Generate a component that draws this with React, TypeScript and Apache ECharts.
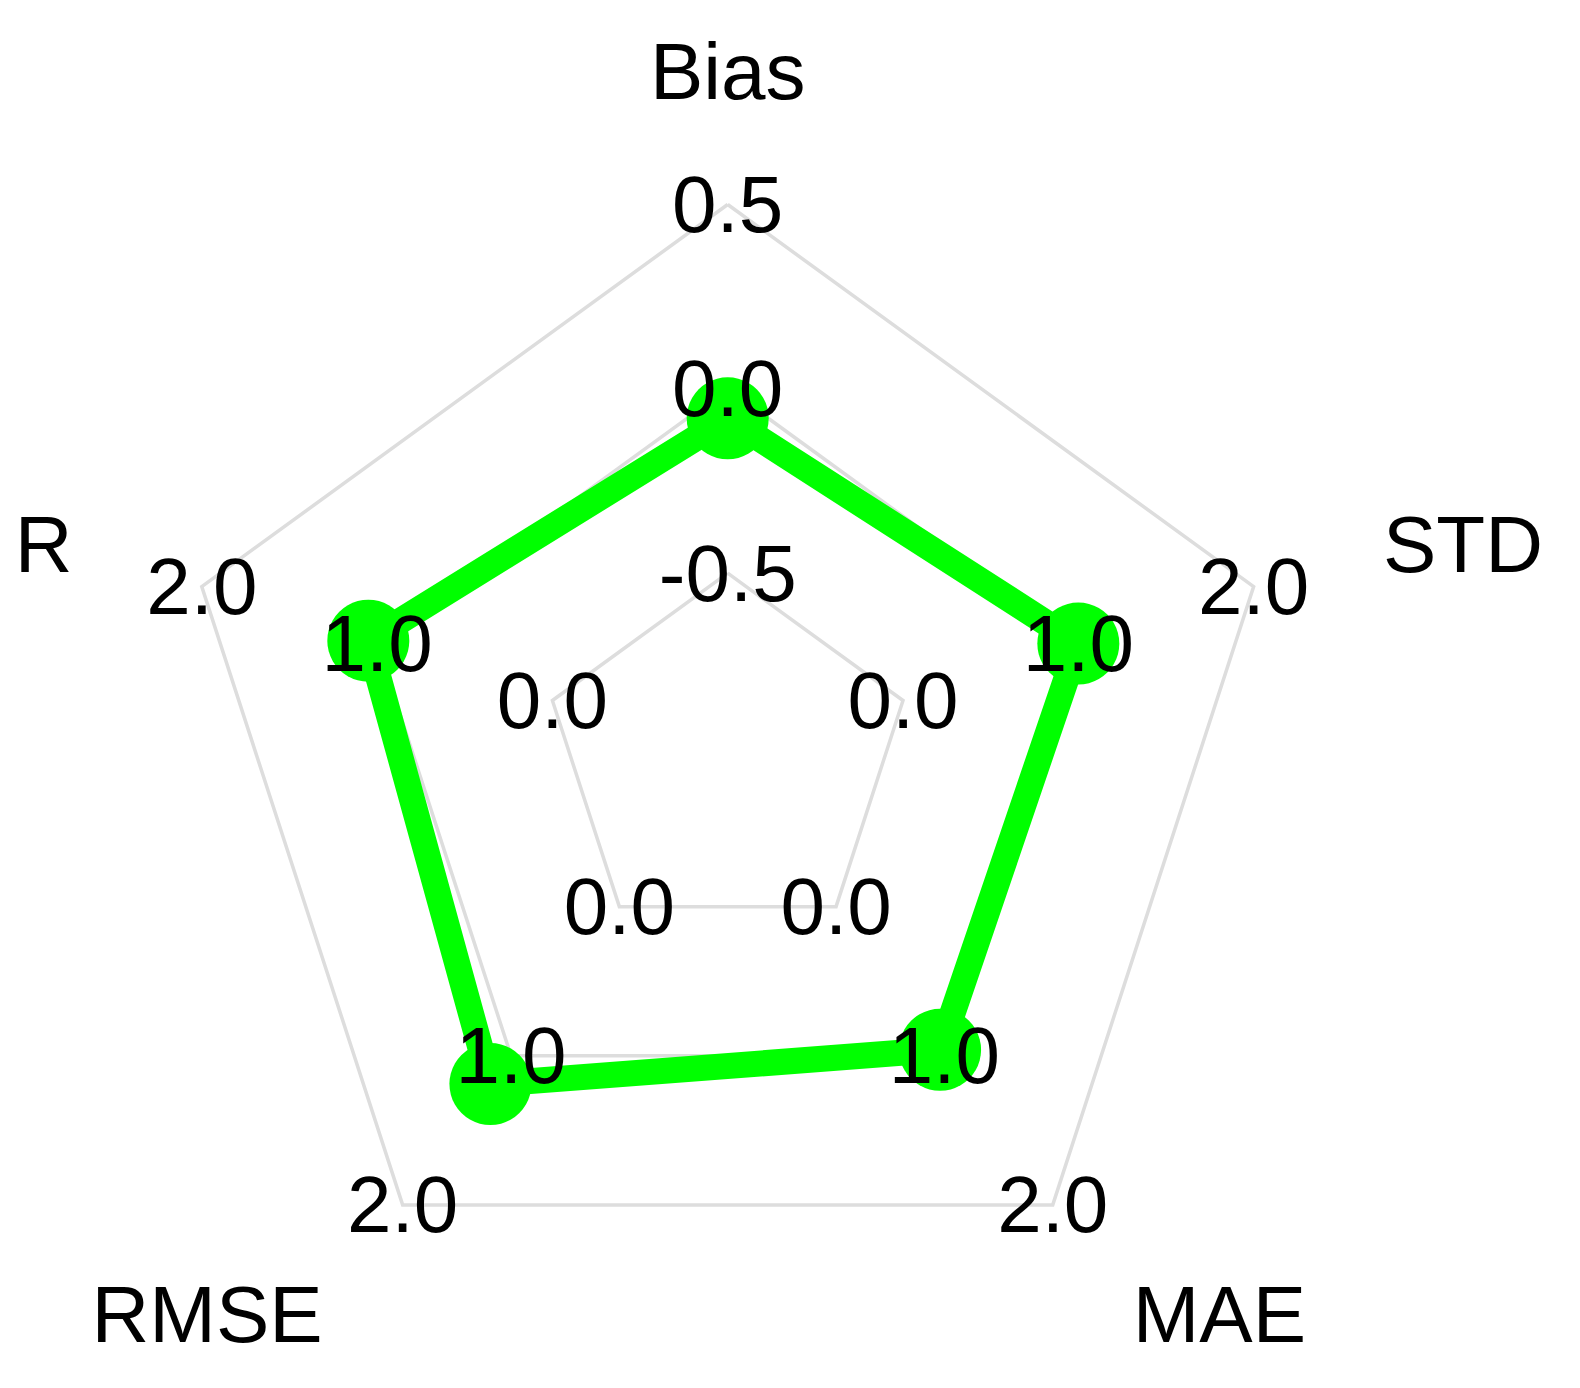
import React, { useEffect, useRef } from "react";
import * as echarts from "echarts";

const indicatorNames = ["Bias", "R", "RMSE", "MAE", "STD"];
const indicatorMin = [-1, -1, -1, -1, -1];
const indicatorMax = [0.5, 2, 2, 2, 2];
const seriesValues = [-0.08, 1.05, 1.19, 0.96, 1.0];

const FONT = "'Liberation Sans', Arial, sans-serif";

export default function App() {
  const ref = useRef<HTMLDivElement>(null);
  useEffect(() => {
    if (!ref.current) return;
    const chart = echarts.init(ref.current, null, { renderer: "svg" });
    const makeIndicator = (keep: (i: number) => boolean) =>
      indicatorNames.map((name, i) => ({
        name: keep(i) ? name : "",
        min: indicatorMin[i],
        max: indicatorMax[i],
      }));
    const center = [719.7, 749.5];
    const radius = 553;
    const base = {
      center,
      radius,
      startAngle: 90,
      splitNumber: 3,
      shape: "polygon",
      axisLine: { show: false },
      axisTick: { show: false },
      splitArea: { show: false },
    };
    const nameStyle = {
      show: true,
      color: "#000000",
      fontSize: 80,
      fontFamily: FONT,
    };
    chart.setOption({
      animation: false,
      backgroundColor: "#ffffff",
      radar: [
        {
          ...base,
          z: 0,
          indicator: makeIndicator(() => false),
          axisName: { show: false },
          axisLabel: { show: false },
          splitLine: { show: true, lineStyle: { color: "#dddddd", width: 3.5 } },
        },
        {
          ...base,
          z: 5,
          indicator: makeIndicator((i) => i !== 0),
          nameGap: 136,
          axisName: nameStyle,
          splitLine: { show: false },
          axisLabel: {
            show: true,
            margin: 0,
            align: "center",
            verticalAlign: "middle",
            color: "#000000",
            fontSize: 80,
            fontFamily: FONT,
            formatter: (v: number) => (v === -1 ? "" : Number(v).toFixed(1)),
          },
        },
        {
          ...base,
          z: 5,
          indicator: makeIndicator((i) => i === 0),
          nameGap: 93,
          axisName: nameStyle,
          splitLine: { show: false },
          axisLabel: { show: false },
        },
      ],
      series: [
        {
          type: "radar",
          radarIndex: 0,
          z: 2,
          symbol: "circle",
          symbolSize: 82,
          lineStyle: { color: "#00ff00", width: 26 },
          itemStyle: { color: "#00ff00" },
          data: [{ value: seriesValues, name: "model" }],
        },
      ],
    });
    return () => chart.dispose();
  }, []);
  return <div ref={ref} style={{ width: 1564, height: 1372 }} />;
}
